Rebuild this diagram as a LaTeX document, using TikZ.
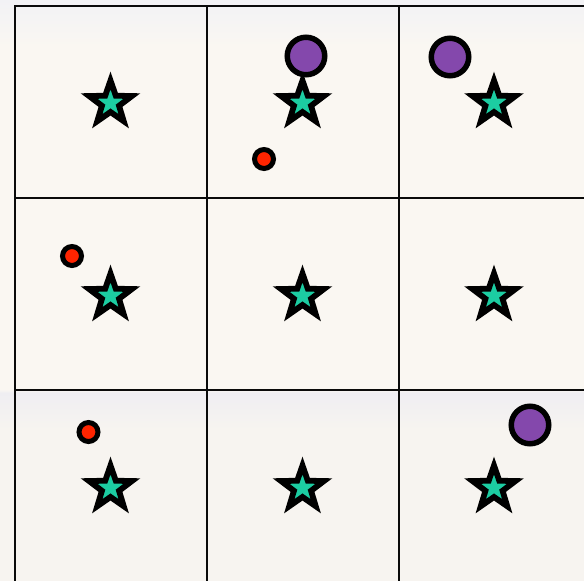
\documentclass[tikz,border=0pt]{standalone}
\usepackage{tikz}
\usetikzlibrary{shapes.geometric}
\definecolor{gridink}{RGB}{10,10,10}
\definecolor{starfill}{RGB}{28,205,162}
\definecolor{bigdot}{RGB}{132,72,172}
\definecolor{smalldot}{RGB}{255,36,0}
\definecolor{skytop}{RGB}{242,242,245}
\definecolor{skymid}{RGB}{250,247,242}
\definecolor{seatint}{RGB}{239,238,242}
\definecolor{seabot}{RGB}{247,244,240}
% the middle 50bp (25bp..75bp) of the shading covers the picture
\pgfdeclareverticalshading{backdrop}{100bp}{
  color(0bp)=(seabot); color(38bp)=(seabot); color(41.2bp)=(seatint);
  color(41.5bp)=(skymid); color(71bp)=(skymid); color(75bp)=(skytop);
  color(100bp)=(skytop)}
\tikzset{
  gridline/.style={draw=gridink, line width=1.8pt},
  goal/.style={star, star points=5, star point ratio=2.5, minimum size=45pt,
               inner sep=0pt, fill=starfill, draw=black, line width=5.8pt, miter limit=10},
  bigblob/.style={circle, minimum size=37.5pt, inner sep=0pt,
                  fill=bigdot, draw=black, line width=5.5pt},
  smallblob/.style={circle, minimum size=19pt, inner sep=0pt,
                    fill=smalldot, draw=black, line width=5pt},
}
\begin{document}
\begin{tikzpicture}[x=1pt, y=-1pt]
    % backdrop
    \useasboundingbox (0,0) rectangle (584,581);
    \shade[shading=backdrop] (0,0) rectangle (584,581);
    % grid
    \foreach \gx in {15,207,399}{\draw[gridline] (\gx,5) -- (\gx,581);}
    \foreach \gy in {6,198,390}{\draw[gridline] (14,\gy) -- (584,\gy);}
    % stars, one per cell
    \foreach \col/\cx in {1/110.5,2/302.5,3/494}{
      \foreach \row/\cy in {1/103,2/296,3/488}{
        \node[goal] (s\col\row) at (\cx,\cy) {};
      }
    }
    % big purple dots
    \node[bigblob] (p21) at (306,56) {};
    \node[bigblob] (p31) at (450,57) {};
    \node[bigblob] (p33) at (530,425) {};
    % small red dots
    \node[smallblob] (r21) at (264,159) {};
    \node[smallblob] (r12) at (72,256) {};
    \node[smallblob] (r13) at (88.5,432) {};
\end{tikzpicture}
\end{document}
